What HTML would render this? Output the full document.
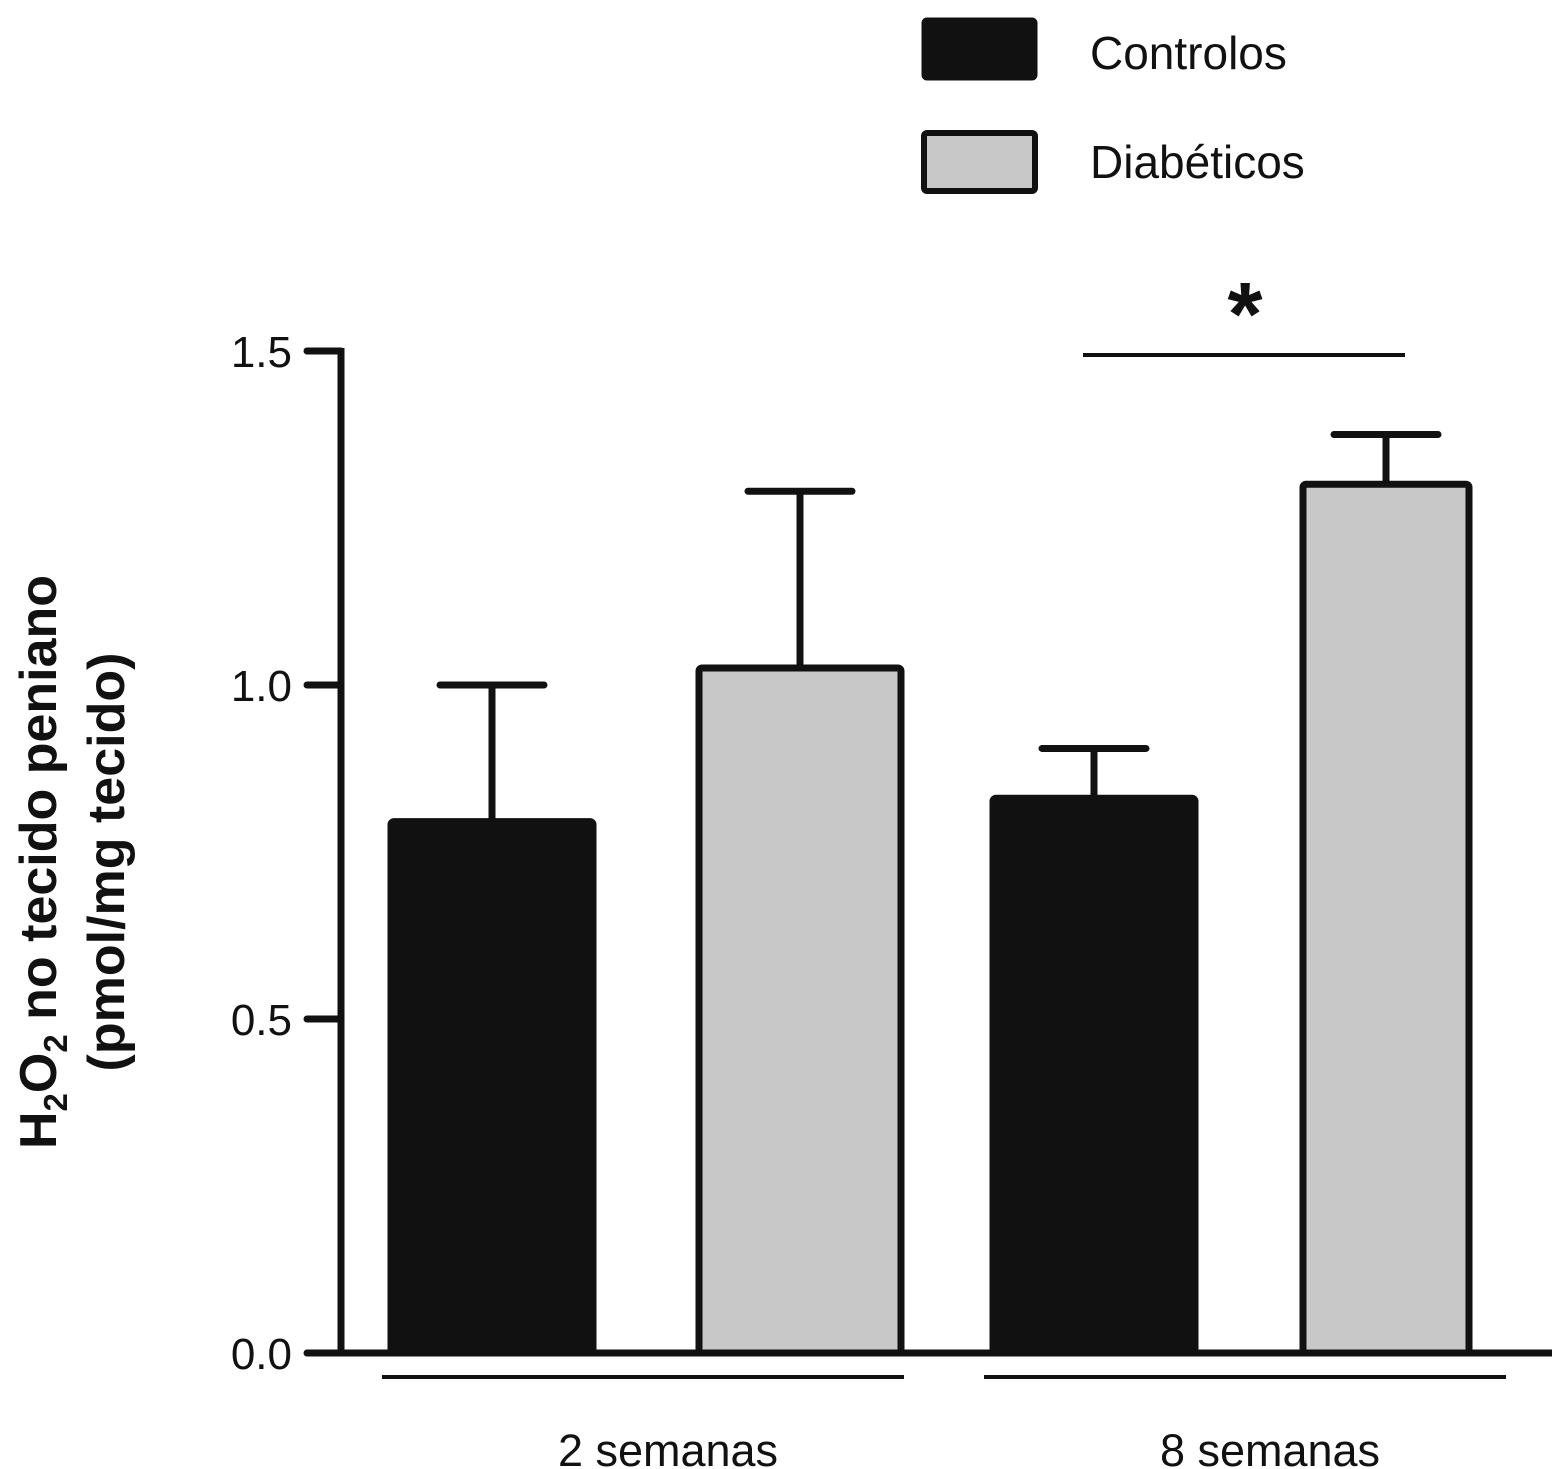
<!DOCTYPE html>
<html><head><meta charset="utf-8"><style>
html,body{margin:0;padding:0;background:#fff;}
svg{display:block;font-family:"Liberation Sans",sans-serif;}
</style></head><body>
<svg id="chart" width="1565" height="1469" viewBox="0 0 1565 1469">
<g>
 <rect x="924" y="20" width="111" height="58" fill="#111" stroke="#111" stroke-width="5" rx="3"/>
 <text x="1090" y="69" font-size="46" fill="#111">Controlos</text>
 <rect x="924" y="133" width="111" height="58" fill="#c8c8c8" stroke="#111" stroke-width="6" rx="3"/>
 <text x="1090" y="178" font-size="46" fill="#111">Diabéticos</text>
</g>
<g id="plot"></g>
<text transform="translate(56,862) rotate(-90)" text-anchor="middle" font-size="52" font-weight="bold" fill="#111">H<tspan font-size="33" dy="11">2</tspan><tspan dy="-11">O</tspan><tspan font-size="33" dy="11">2</tspan><tspan dy="-11"> no tecido peniano</tspan></text>
<text transform="translate(124,862) rotate(-90)" text-anchor="middle" font-size="52" font-weight="bold" fill="#111">(pmol/mg tecido)</text>
</svg>
<script>
const groups = ["2 semanas", "8 semanas"];
const controlos = [0.80, 0.835];
const controlosErr = [0.20, 0.07];
const diabeticos = [1.03, 1.305];
const diabeticosErr = [0.26, 0.07];
const yTicks = [0.0, 0.5, 1.0, 1.5];
const yTickLabels = ["0.0", "0.5", "1.0", "1.5"];

const NS = "http://www.w3.org/2000/svg";
const plot = document.getElementById("plot");
const y0 = 1353, yScale = 668;
function yPos(v){ return y0 - v*yScale; }
const groupLeft = [388, 990];
const groupWidth = 510;
function barX(g, s){ return groupLeft[g] + s*(g===1?310:308); }
function barWidth(g, s){ return (g===1 && s===1) ? 172 : 208; }
function el(tag, attrs){ const e=document.createElementNS(NS,tag); for(const k in attrs) e.setAttribute(k,attrs[k]); plot.appendChild(e); return e; }

let ax = el("line",{x1:341,y1:yPos(1.5)-3,x2:341,y2:y0,stroke:"#111","stroke-width":7});


yTicks.forEach((t,i)=>{
  const tk = el("line",{x1:307,y1:yPos(t),x2:341,y2:yPos(t),stroke:"#111","stroke-width":7,"stroke-linecap":"round"});
  
  
  const lb = el("text",{x:292,y:yPos(t)+16,"text-anchor":"end","font-size":44,fill:"#111"});
  lb.textContent = yTickLabels[i];
  
  
});
let xa = el("line",{x1:310,y1:y0,x2:1552,y2:y0,stroke:"#111","stroke-width":7});



function drawBar(g,s,v,err,fill,name){
  const x = barX(g,s), barW = barWidth(g,s);
  const top = yPos(v), et = yPos(v+err), cx = x+barW/2;
  const w = el("line",{x1:cx,y1:et,x2:cx,y2:top,stroke:"#111","stroke-width":7});
  
  
  const c = el("line",{x1:cx-52,y1:et,x2:cx+52,y2:et,stroke:"#111","stroke-width":7,"stroke-linecap":"round"});
  
  
  const r = el("rect",{x:x+3,y:top+3,width:barW-6,height:y0-top-3,fill:fill,stroke:"#111","stroke-width":7,rx:3});
  
  
}
groups.forEach((gname,g)=>{
  drawBar(g,0,controlos[g],controlosErr[g],"#111",'bar-controlos');
  drawBar(g,1,diabeticos[g],diabeticosErr[g],"#c8c8c8",'bar-diabeticos');
  const gl = el("line",{x1:groupLeft[g]-6,y1:1377,x2:groupLeft[g]+groupWidth+6,y2:1377,stroke:"#111","stroke-width":4});
  
  
  const t = el("text",{x:groupLeft[g]+groupWidth/2+25,y:1466,"text-anchor":"middle","font-size":45,fill:"#111"});
  t.textContent = gname;
  
  
});
const sl = el("line",{x1:1083,y1:355,x2:1405,y2:355,stroke:"#111","stroke-width":4});


const st = el("text",{x:1245,y:345,"text-anchor":"middle","font-size":90,"font-weight":"bold",fill:"#111"});
st.textContent="*";


</script>
</body></html>
